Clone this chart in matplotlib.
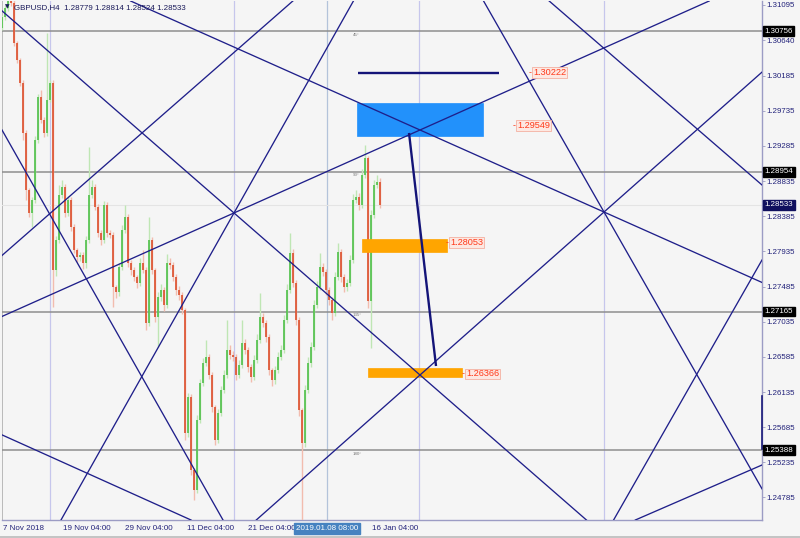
import matplotlib
matplotlib.use("Agg")
import matplotlib.pyplot as plt
from matplotlib.patches import Rectangle
from matplotlib.transforms import blended_transform_factory

# ---------------- data ----------------
first_open = 1.30795
closes = [
    1.30935, 1.31051, 1.31217, 1.31115, 1.30603, 1.30385, 1.30091, 1.29451, 1.28721, 1.28427,
    1.28593, 1.29361, 1.29911, 1.29617, 1.29451, 1.29873, 1.30091, 1.27697, 1.28081, 1.28657,
    1.28759, 1.28427, 1.28593, 1.28247, 1.27953, 1.27863, 1.27889, 1.27787, 1.28081, 1.28657,
    1.28759, 1.28503, 1.28171, 1.28081, 1.28529, 1.28171, 1.28145, 1.27479, 1.27415, 1.27735,
    1.28209, 1.28375, 1.27787, 1.27697, 1.27607, 1.27531, 1.27787, 1.27697, 1.27019, 1.28081,
    1.27697, 1.27095, 1.27351, 1.27441, 1.27249, 1.27787, 1.27761, 1.27607, 1.27441, 1.27377,
    1.27185, 1.25611, 1.26071, 1.25137, 1.24881, 1.25777, 1.26251, 1.26507, 1.26583, 1.26353,
    1.25943, 1.25521, 1.25867, 1.26161, 1.26353, 1.26673, 1.26609, 1.26583, 1.26353, 1.26481,
    1.26763, 1.26673, 1.26455, 1.26327, 1.26545, 1.26801, 1.27095, 1.27019, 1.26839, 1.26417,
    1.26289, 1.26417, 1.26583, 1.26673, 1.27057, 1.27441, 1.27915, 1.27531, 1.27057, 1.25905,
    1.25483, 1.26161, 1.26507, 1.26711, 1.27249, 1.27479, 1.27735, 1.27671, 1.27441, 1.27313,
    1.27147, 1.27607, 1.27927, 1.27607, 1.27479, 1.27531, 1.27825, 1.28593, 1.28631, 1.28529,
    1.28913, 1.29131, 1.27297, 1.28401, 1.28785, 1.28823, 1.28533,
]
upper_wick_pips = [
    3, 4, 6, 4, 4, 3, 3, 4, 4, 3,
    4, 5, 4, 9, 4, 86, 4, 4, 5, 13,
    9, 4, 5, 4, 4, 3, 4, 4, 5, 61,
    9, 4, 4, 4, 5, 4, 4, 4, 3, 5,
    6, 15, 4, 4, 4, 3, 6, 17, 4, 29,
    4, 3, 6, 8, 4, 12, 6, 4, 4, 5,
    4, 3, 5, 4, 3, 6, 5, 6, 22, 4,
    4, 3, 5, 5, 6, 38, 6, 5, 4, 6,
    29, 5, 4, 4, 6, 8, 31, 5, 4, 4,
    3, 5, 6, 6, 7, 8, 26, 5, 4, 4,
    3, 6, 8, 6, 7, 8, 18, 5, 4, 4,
    4, 6, 12, 4, 4, 5, 6, 8, 9, 5,
    8, 17, 3, 6, 6, 9, 5,
]
lower_wick_pips = [
    3, 4, 4, 4, 4, 4, 4, 9, 13, 5,
    18, 4, 4, 4, 5, 4, 3, 47, 8, 4,
    4, 5, 4, 5, 4, 6, 5, 8, 6, 4,
    4, 4, 5, 6, 4, 5, 4, 26, 8, 5,
    4, 4, 5, 6, 5, 6, 4, 4, 9, 4,
    5, 6, 38, 5, 8, 4, 5, 5, 6, 6,
    5, 9, 5, 6, 13, 4, 4, 4, 4, 5,
    6, 6, 4, 4, 4, 4, 5, 5, 6, 4,
    4, 5, 6, 7, 4, 4, 4, 5, 6, 6,
    8, 5, 4, 4, 4, 4, 4, 5, 6, 8,
    110, 5, 4, 5, 4, 4, 4, 5, 6, 6,
    9, 4, 4, 6, 6, 5, 4, 4, 4, 6,
    4, 4, 9, 60, 4, 4, 4,
]

price_ticks = [1.31095, 1.30640, 1.30185, 1.29735, 1.29285, 1.28835, 1.28385,
               1.27935, 1.27485, 1.27035, 1.26585, 1.26135, 1.25685, 1.25235, 1.24785]
level_prices = [1.30756, 1.28954, 1.27165, 1.25388]
level_angle_labels = ["45°", "90°", "135°", "180°"]
current_price = 1.28533

date_labels = ["7 Nov 2018", "19 Nov 04:00", "29 Nov 04:00", "11 Dec 04:00",
               "21 Dec 04:00", "16 Jan 04:00"]
date_pos = [0.33, 20.33, 41.0, 61.67, 82.0, 123.33]
cursor_label = "2019.01.08 08:00"
cursor_pos = 108.33
separator_pos = [16.0, 77.33, 139.0, 200.67]

# trend / gann lines through two anchor points (bar position, price)
trend_lines = [
    ((77.33, 1.28427), (139.33, 1.26353)),
    ((77.33, 1.28427), (139.33, 1.29489)),
    ((77.33, 1.28427), (117.33, 1.31153)),
    ((0.0, 1.29489), (73.67, 1.24497)),
    ((46.67, 1.29451), (97.33, 1.31153)),
    ((-0.67, 1.25598), (63.0, 1.24497)),
    ((139.33, 1.26353), (200.67, 1.28439)),
    ((160.33, 1.31153), (200.67, 1.28439)),
    ((182.0, 1.31153), (253.33, 1.28785)),
    ((139.33, 1.29489), (200.67, 1.28439)),
    ((203.67, 1.24484), (253.33, 1.27825)),
    ((210.33, 1.24484), (253.33, 1.25201)),
]
arrow_line = ((135.67, 1.29451), (144.67, 1.26468))
target_line = (118.67, 165.67, 1.30222)
blue_zone = (118.33, 160.33, 1.29412, 1.29834)
orange_zones = [(120.0, 148.33, 1.27927, 1.28094), (122.0, 153.33, 1.26327, 1.26443)]
price_tags = [(177.0, 1.30222), (171.67, 1.29549), (149.33, 1.28053), (154.67, 1.26366)]
axis_mark = (1.25406, 1.26084)

header = "GBPUSD,H4  1.28779 1.28814 1.28524 1.28533"

# ---------------- figure ----------------
FONT = ["Liberation Sans", "DejaVu Sans"]
plt.rcParams["font.family"] = FONT
BG = "#f5f5f5"
NAVY = "#1f1f8a"

fig = plt.figure(figsize=(8.0, 5.38), dpi=100, facecolor=BG)
ax = fig.add_axes([2 / 800, 18 / 538, 760 / 800, 519 / 538])
ax.set_facecolor(BG)
ax.set_xlim(0, 253.33)
ax.set_ylim(1.24497, 1.31140)

for s in ["top", "left"]:
    ax.spines[s].set_visible(False)
ax.spines["right"].set_color("#9c9cc4")
ax.spines["bottom"].set_color("#9c9cc4")
ax.spines["right"].set_linewidth(1.0)
ax.spines["bottom"].set_linewidth(1.0)
ax.axvline(0.0, color="#b0b0b0", lw=1.2, zorder=1)

# separators and cursor line
for xp in separator_pos:
    ax.axvline(xp, color="#c6c6ec", lw=0.9, zorder=1)
ax.axvline(cursor_pos, color="#b3c3da", lw=0.9, zorder=1)

# horizontal levels
for p in level_prices:
    ax.axhline(p, color="#8e8e8e", lw=1.1, zorder=2)
ax.axhline(current_price, color="#e4e4e4", lw=0.8, zorder=1)
for p, lab in zip(level_prices, level_angle_labels):
    ax.text(117.0, p - 0.0002, lab, fontsize=3.2, color="#777777",
            va="top", ha="left", zorder=3)

# candles
opens = [first_open] + closes[:-1]
for i, (o, c) in enumerate(zip(opens, closes)):
    hi = max(o, c) + upper_wick_pips[i] * 0.0001
    lo = min(o, c) - lower_wick_pips[i] * 0.0001
    bull = c >= o
    wick_col = "#bfe6b4" if bull else "#f2bcae"
    body_col = "#55c24f" if bull else "#dd5432"
    ax.vlines(i, lo, hi, color=wick_col, lw=1.0, zorder=3)
    ax.vlines(i, min(o, c), max(o, c), color=body_col, lw=1.25, zorder=4)

# zones
x0, x1, y0, y1 = blue_zone
ax.add_patch(Rectangle((x0, y0), x1 - x0, y1 - y0, facecolor="#2291fb",
                       edgecolor="#2291fb", lw=0.5, zorder=5))
for (x0, x1, y0, y1) in orange_zones:
    ax.add_patch(Rectangle((x0, y0), x1 - x0, y1 - y0, facecolor="#ffa500",
                           edgecolor="#ffa500", lw=0.5, zorder=5))

# trend lines
for (a, b) in trend_lines:
    ax.axline(a, b, color=NAVY, lw=0.95, zorder=6)
(ax1, ay1), (ax2, ay2) = arrow_line
ax.plot([ax1, ax2], [ay1, ay2], color="#141478", lw=1.7, zorder=7,
        solid_capstyle="butt")
tx0, tx1, tp = target_line
ax.plot([tx0, tx1], [tp, tp], color="#141478", lw=1.7, zorder=7,
        solid_capstyle="butt")

# price tags
for (xp, p) in price_tags:
    ax.text(xp - 1.6, p, "-", fontsize=6.4, color="#ff3a1a",
            va="center", ha="left", zorder=8)
    ax.text(xp, p, f"{p:.5f}", fontsize=6.6, color="#ff3a1a",
            va="center", ha="left", zorder=8,
            bbox=dict(boxstyle="square,pad=0.1", facecolor="#fde8e2",
                      edgecolor="#f4b0a2", lw=0.6))

# right price axis
ax.yaxis.tick_right()
ax.set_yticks(price_ticks)
ax.set_yticklabels([f"{p:.5f}" for p in price_ticks])
ax.tick_params(axis="y", colors="#22227a", labelsize=5.7, length=2, width=0.6,
               pad=1.5, direction="out")
ax.tick_params(axis="y", color="#9c9cc4")
ax.set_xticks([])
ax.plot([253.33, 253.33], list(axis_mark), color="#1a1a7a", lw=1.2,
        zorder=9, clip_on=False)

trans_r = blended_transform_factory(ax.transAxes, ax.transData)
for p in level_prices:
    ax.text(1.0035, p, f"{p:.5f}", transform=trans_r, fontsize=5.7,
            color="white", va="center", ha="left", zorder=10, clip_on=False,
            bbox=dict(boxstyle="square,pad=0.18", facecolor="black",
                      edgecolor="black"))
ax.text(1.0035, current_price, f"{current_price:.5f}", transform=trans_r,
        fontsize=5.7, color="white", va="center", ha="left", zorder=10,
        clip_on=False, bbox=dict(boxstyle="square,pad=0.18",
                                 facecolor="#10105e", edgecolor="#10105e"))

# date axis
trans_b = blended_transform_factory(ax.transData, fig.transFigure)
for lab, xp in zip(date_labels, date_pos):
    ax.text(xp, 9.5 / 538, lab, transform=trans_b, fontsize=5.8,
            color="#22227a", va="center", ha="left", clip_on=False)
ax.text(cursor_pos, 9.5 / 538, cursor_label, transform=trans_b, fontsize=5.8,
        color="white", va="center", ha="center", clip_on=False, zorder=10,
        bbox=dict(boxstyle="square,pad=0.25", facecolor="#4682c0",
                  edgecolor="#4682c0"))

# header
ax.text(0.004, 0.993, "▼", transform=ax.transAxes, fontsize=4.2,
        color="#1a1a5a", va="top", ha="left", family=["DejaVu Sans"], zorder=10)
ax.text(0.016, 0.995, header, transform=ax.transAxes, fontsize=5.7,
        color="#1a1a5a", va="top", ha="left", zorder=10)

# bottom frame band
fig.patches.append(Rectangle((0, 0), 1, 2.5 / 538, transform=fig.transFigure,
                             facecolor="#c4c4c4", edgecolor="none"))

fig.savefig("out.png", dpi=100, facecolor=BG)
